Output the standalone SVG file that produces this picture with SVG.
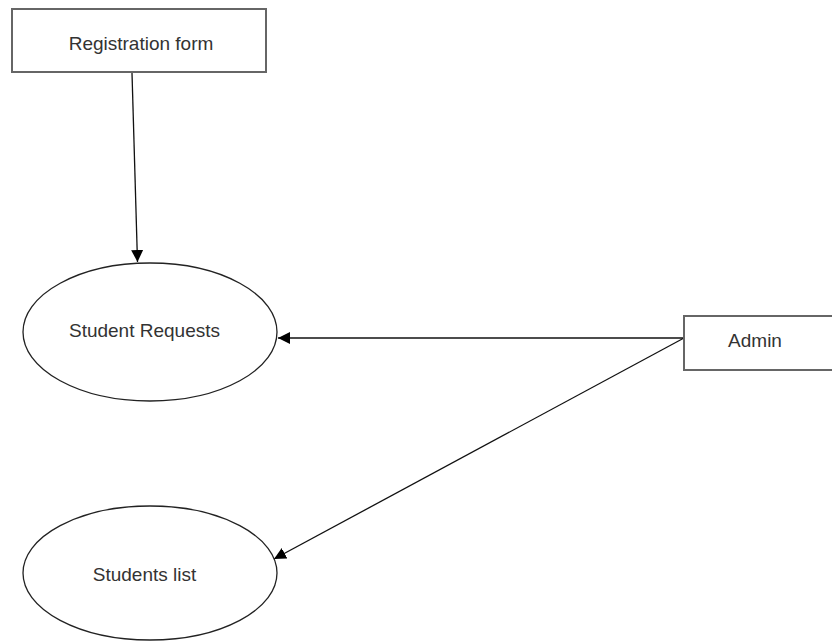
<svg xmlns="http://www.w3.org/2000/svg" width="832" height="643" viewBox="0 0 832 643">
<style>
.box{fill:#fff;stroke:#666;stroke-width:2}
.oval{fill:#fff;stroke:#222;stroke-width:1.3}
.lbl{font-family:"Liberation Sans",Arial,sans-serif;font-size:19px;fill:#333;text-anchor:middle;dominant-baseline:central}
.edge{stroke:#111;stroke-width:1.3;fill:none}
</style>
<defs>
<marker id="arr" viewBox="0 0 10 10" refX="10" refY="5" markerWidth="12" markerHeight="12" markerUnits="userSpaceOnUse" orient="auto">
<path d="M0,0 L10,5 L0,10 Z" fill="#000"/>
</marker>
</defs>
<rect width="832" height="643" fill="#fff"/>
<g id="connectors">
<line class="edge" x1="132" y1="73" x2="137.5" y2="262" marker-end="url(#arr)"/>
<line class="edge" x1="684" y1="338" x2="278" y2="338" marker-end="url(#arr)"/>
<line class="edge" x1="684" y1="338" x2="274" y2="559" marker-end="url(#arr)"/>
</g>
<g id="registration-form">
<rect class="box" x="12" y="9" width="254" height="63"/>
<text class="lbl" x="141" y="43">Registration form</text>
</g>
<g id="student-requests">
<ellipse class="oval" cx="150" cy="332" rx="127" ry="69"/>
<text class="lbl" x="144.5" y="330">Student Requests</text>
</g>
<g id="admin">
<rect class="box" x="684" y="316" width="150" height="54"/>
<text class="lbl" x="755" y="340">Admin</text>
</g>
<g id="students-list">
<ellipse class="oval" cx="150" cy="573" rx="127" ry="67"/>
<text class="lbl" x="144.5" y="574">Students list</text>
</g>
</svg>
